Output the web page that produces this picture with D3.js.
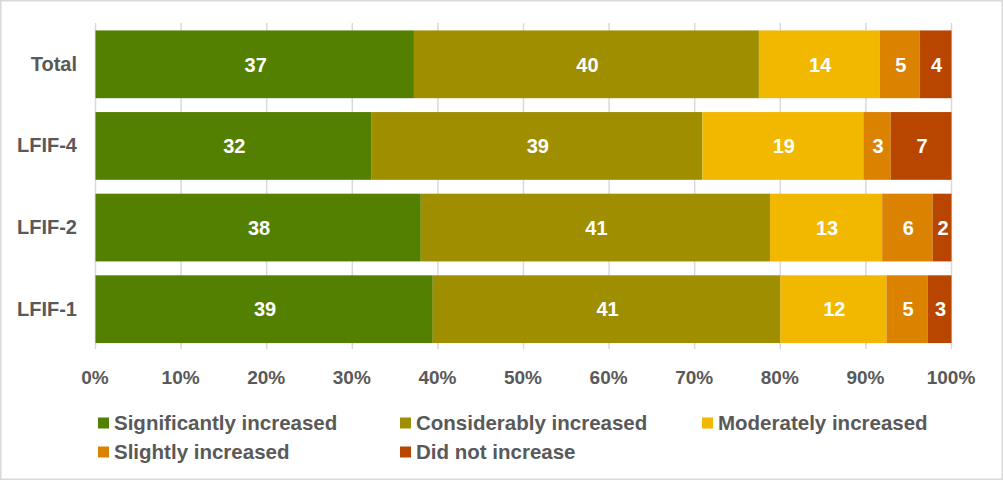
<!DOCTYPE html>
<html><head><meta charset="utf-8">
<script src="https://cdn.jsdelivr.net/npm/d3@7"></script>
<style>
html,body{margin:0;padding:0;background:#fff;}
svg{display:block;font-family:"Liberation Sans",Arial,sans-serif;}
</style></head>
<body><svg id="c" width="1003" height="480"></svg>
<script>
const categories = ["Total", "LFIF-4", "LFIF-2", "LFIF-1"];
const seriesNames = ["Significantly increased", "Considerably increased", "Moderately increased", "Slightly increased", "Did not increase"];
const significantly = [37.2, 32.2, 38.0, 39.4];
const considerably = [40.3, 38.7, 40.8, 40.6];
const moderately = [14.1, 18.8, 13.1, 12.4];
const slightly = [4.7, 3.2, 5.9, 4.8];
const didNot = [3.7, 7.1, 2.2, 2.8];
const seriesColors = ["#538000", "#9f8e00", "#f2b800", "#db8200", "#b84600"];
const tickValues = [0, 0.1, 0.2, 0.3, 0.4, 0.5, 0.6, 0.7, 0.8, 0.9, 1.0];

const seriesValues = [significantly, considerably, moderately, slightly, didNot];
const rows = categories.map((c, i) => {
  const o = {cat: c};
  seriesNames.forEach((s, j) => o[s] = seriesValues[j][i]);
  return o;
});
const stack = d3.stack().keys(seriesNames).offset(d3.stackOffsetExpand)(rows);

const svg = d3.select("#c");
svg.append("rect").attr("x", 0.75).attr("y", 0.75).attr("width", 1001.5).attr("height", 478.5)
  .attr("fill", "#fff").attr("stroke", "#d9d9d9").attr("stroke-width", 1.5);

const x = d3.scaleLinear().domain([0, 1]).range([95.5, 951.5]);
const y = d3.scaleBand().domain(categories).range([23.5, 350]).paddingInner(0.17).paddingOuter(0.085);

// gridlines
svg.append("g").selectAll("line").data(tickValues).join("line")
  .attr("x1", d => x(d)).attr("x2", d => x(d))
  .attr("y1", 23).attr("y2", 349)
  .attr("stroke", "#d9d9d9").attr("stroke-width", 1.5);

// bars
const g = svg.append("g");
stack.forEach((layer, j) => {
  g.append("g").attr("fill", seriesColors[j]).selectAll("rect").data(layer).join("rect")
    .attr("x", d => x(d[0])).attr("width", d => x(d[1]) - x(d[0]))
    .attr("y", d => y(d.data.cat)).attr("height", y.bandwidth());
  g.append("g").selectAll("text").data(layer).join("text")
    .attr("x", d => (x(d[0]) + x(d[1])) / 2 + 1)
    .attr("y", d => y(d.data.cat) + y.bandwidth() / 2)
    .attr("dy", "0.36em").attr("text-anchor", "middle")
    .attr("fill", "#fff").attr("font-weight", "bold").attr("font-size", "20px")
    .text(d => d3.format(".0f")(d.data[layer.key]));
});

// x axis labels
const xAxis = d3.axisBottom(x).tickValues(tickValues).tickFormat(d3.format(".0%")).tickSize(0).tickPadding(0);
const xa = svg.append("g").attr("transform", "translate(-1,370)").call(xAxis);
xa.select(".domain").remove();
xa.selectAll("text").attr("fill", "#595959").attr("font-weight", "bold").attr("font-size", "19px")
  .attr("font-family", "Liberation Sans, Arial, sans-serif");

// y axis labels
const yAxis = d3.axisLeft(y).tickSize(0).tickPadding(0);
const ya = svg.append("g").attr("transform", "translate(77,0)").call(yAxis);
ya.select(".domain").remove();
ya.selectAll("text").attr("fill", "#595959").attr("font-weight", "bold").attr("font-size", "20px")
  .attr("font-family", "Liberation Sans, Arial, sans-serif");

// legend
const legPos = [[98, 423], [400, 423], [702, 423], [98, 452], [400, 452]];
const leg = svg.append("g").selectAll("g").data(seriesNames).join("g")
  .attr("transform", (d, i) => `translate(${legPos[i][0]},${legPos[i][1]})`);
leg.append("rect").attr("x", 0).attr("y", -5.5).attr("width", 11).attr("height", 11)
  .attr("fill", (d, i) => seriesColors[i]);
leg.append("text").attr("x", 16).attr("dy", "0.36em")
  .attr("fill", "#595959").attr("font-weight", "bold").attr("font-size", "20.5px")
  .text(d => d);
</script></body></html>
